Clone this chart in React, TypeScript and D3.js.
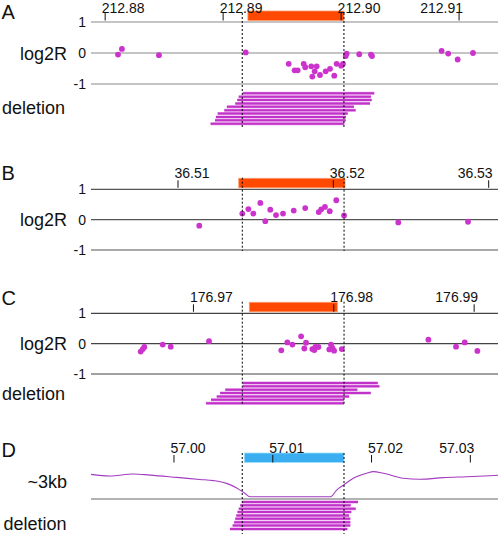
import React from 'react';
import * as d3 from 'd3';

const FONT = "'Liberation Sans', Arial, Helvetica, sans-serif";

// ---------- Panel A ----------
const A_DOMAIN = [212.8788, 212.9133];
const A_TICKS = [212.88, 212.89, 212.9, 212.91];
const A_POS = [212.88109, 212.88142, 212.88456, 212.89191, 212.89556, 212.89606, 212.89632, 212.89683, 212.89696, 212.89747, 212.89793, 212.89776, 212.89756, 212.89821, 212.89869, 212.89906, 212.89942, 212.89962, 212.90001, 212.90016, 212.90039, 212.90047, 212.90154, 212.90253, 212.90262, 212.90852, 212.90908, 212.90988, 212.91118];
const A_LOG2R = [-0.05, 0.13, -0.07, 0.02, -0.35, -0.56, -0.56, -0.35, -0.46, -0.43, -0.43, -0.59, -0.76, -0.71, -0.59, -0.51, -0.73, -0.35, -0.41, -0.35, -0.1, -0.02, -0.04, -0.05, -0.1, 0.07, -0.02, -0.21, 0.0];
const A_REGION = [212.8921, 212.90024];
const A_BREAKS = [212.89162, 212.90024];
const A_DEL_START = [212.89166, 212.89132, 212.8912, 212.89103, 212.89032, 212.8901, 212.88954, 212.88939, 212.88931, 212.88894];
const A_DEL_END = [212.90281, 212.90253, 212.90259, 212.90245, 212.90109, 212.90123, 212.90056, 212.90041, 212.90039, 212.90027];

// ---------- Panel B ----------
const B_DOMAIN = [36.5044, 36.5306];
const B_TICKS = [36.51, 36.52, 36.53];
const B_POS = [36.51137, 36.51414, 36.51453, 36.51485, 36.5153, 36.51562, 36.51594, 36.51631, 36.51676, 36.51745, 36.51819, 36.51906, 36.51922, 36.51946, 36.51977, 36.52019, 36.52069, 36.52418, 36.52867];
const B_LOG2R = [-0.2, 0.2, 0.35, 0.2, 0.55, -0.05, 0.33, 0.15, 0.2, 0.3, 0.38, 0.25, 0.34, 0.42, 0.28, 0.64, 0.14, -0.09, -0.07];
const B_REGION = [36.51391, 36.52075];
const B_BREAKS = [36.51414, 36.52069];

// ---------- Panel C ----------
const C_DOMAIN = [176.9627, 176.9917];
const C_TICKS = [176.97, 176.98, 176.99];
const C_POS = [176.96624, 176.96639, 176.9665, 176.96781, 176.96838, 176.97111, 176.97626, 176.97669, 176.97705, 176.97767, 176.97802, 176.9779, 176.97847, 176.97869, 176.9789, 176.97861, 176.9798, 176.97968, 176.98002, 176.9799, 176.98057, 176.98674, 176.98871, 176.98933, 176.99023];
const C_LOG2R = [-0.26, -0.18, -0.11, -0.03, -0.1, 0.08, -0.22, 0.04, -0.03, 0.24, 0.03, -0.16, -0.18, -0.11, -0.11, -0.21, -0.03, -0.19, -0.23, -0.14, -0.18, 0.13, -0.1, 0.04, -0.24];
const C_REGION = [176.97398, 176.98025];
const C_BREAKS = [176.97348, 176.98073];
const C_DEL_START = [176.97351, 176.97351, 176.97227, 176.9719, 176.97166, 176.97125, 176.9709];
const C_DEL_END = [176.98313, 176.98325, 176.98168, 176.98263, 176.98109, 176.98073, 176.98073];

// ---------- Panel D ----------
const D_DOMAIN = [56.9916, 57.0328];
const D_TICKS = [57.0, 57.01, 57.02, 57.03];
const D_REGION = [57.00712, 57.01721];
const D_BREAKS = [57.00691, 57.01721];
const D_COV_POS = [56.9916, 56.99352, 56.99588, 56.99757, 57.00027, 57.00263, 57.00398, 57.00533, 57.00635, 57.00716, 57.00769, 57.01586, 57.01647, 57.01714, 57.01815, 57.0195, 57.02018, 57.02119, 57.02321, 57.0249, 57.02726, 57.02963, 57.0328];
const D_COV_VAL = [1.07, 1.0, 1.09, 1.04, 0.94, 0.85, 0.8, 0.68, 0.48, 0.25, 0.1, 0.1, 0.39, 0.6, 0.9, 1.12, 1.19, 1.12, 0.9, 0.86, 0.93, 0.97, 1.03];
const D_DEL_START = [57.00693, 57.00671, 57.00656, 57.00643, 57.00631, 57.0062, 57.00609, 57.00594, 57.00567];
const D_DEL_END = [57.01863, 57.01789, 57.01839, 57.01795, 57.01772, 57.01785, 57.01785, 57.01785, 57.01755];

const X0 = 91;
const X1 = 498;
const DOT = '#cc33cc';
const DEL = '#c032c8';
const DEL_EDGE = '#e69ae9';
const fmt = d3.format('.2f');

function TickRow({ xs, ticks, top, labelGap = 11 }) {
  return (
    <g>
      {ticks.map((t, i) => {
        const x = xs(t);
        const last = i === ticks.length - 1;
        return (
          <g key={i}>
            <line x1={x} x2={x} y1={top - 9} y2={top - 1.5} stroke="#111" strokeWidth={1} />
            <text
              x={last ? x + 4 : x - 3.5}
              y={top - labelGap}
              textAnchor={last ? 'end' : 'start'}
              fontSize={14}
              fontFamily={FONT}
              fill="#111"
            >
              {fmt(t)}
            </text>
          </g>
        );
      })}
    </g>
  );
}

function Region({ xs, region, top, fill, edge }) {
  return (
    <rect
      x={xs(region[0])}
      y={top - 11}
      width={xs(region[1]) - xs(region[0])}
      height={9.5}
      fill={fill}
      stroke={edge}
      strokeWidth={0.8}
    />
  );
}

function Breaks({ xs, breaks, y1, y2 }) {
  return (
    <g>
      {breaks.map((b, i) => (
        <line key={i} x1={xs(b)} x2={xs(b)} y1={y1} y2={y2} stroke="#000" strokeWidth={1} strokeDasharray="2,2" />
      ))}
    </g>
  );
}

function Deletions({ xs, starts, ends, top }) {
  const ys = d3.scalePoint().domain(d3.range(starts.length)).range([top, top + (starts.length - 1) * 3.37]);
  return (
    <g>
      {starts.map((s, i) => (
        <g key={i}>
          <line x1={xs(s)} x2={xs(ends[i])} y1={ys(i)} y2={ys(i)} stroke={DEL_EDGE} strokeWidth={3} />
          <line x1={xs(s)} x2={xs(ends[i])} y1={ys(i)} y2={ys(i)} stroke={DEL} strokeWidth={2} />
        </g>
      ))}
    </g>
  );
}

function Log2RPanel({ domain, ticks, pos, vals, top, bottom, region, breaks, dashTop, dashBottom, lineColor, letter, letterY, dels, delTop, delLabelY, labelGap }) {
  const xs = d3.scaleLinear().domain(domain).range([X0, X1]);
  const ys = d3.scaleLinear().domain([-1, 1]).range([bottom, top]);
  return (
    <g>
      <text x={1.5} y={letterY} fontSize={20} fontFamily={FONT} fill="#111">{letter}</text>
      {[1, 0, -1].map((v) => (
        <g key={v}>
          <line x1={X0} x2={X1} y1={ys(v)} y2={ys(v)} stroke={lineColor} strokeWidth={1.2} />
          <text x={86} y={ys(v) + 5} textAnchor="end" fontSize={14} fontFamily={FONT} fill="#111">{v}</text>
        </g>
      ))}
      <text x={67} y={ys(0) + 6.5} textAnchor="end" fontSize={18} fontFamily={FONT} fill="#111">log2R</text>
      <Region xs={xs} region={region} top={top} fill="#ff4800" edge="#ff9a6a" />
      <TickRow xs={xs} ticks={ticks} top={top} labelGap={labelGap} />
      {pos.map((p, i) => (
        <circle key={i} cx={xs(p)} cy={ys(vals[i])} r={2.9} fill={DOT} />
      ))}
      {dels && (
        <>
          <Deletions xs={xs} starts={dels[0]} ends={dels[1]} top={delTop} />
          <text x={2} y={delLabelY} fontSize={18} fontFamily={FONT} fill="#111">deletion</text>
        </>
      )}
      <Breaks xs={xs} breaks={breaks} y1={dashTop} y2={dashBottom} />
    </g>
  );
}

function CoveragePanel() {
  const xs = d3.scaleLinear().domain(D_DOMAIN).range([X0, X1]);
  const yc = d3.scaleLinear().domain([0, 1]).range([499, 476]);
  const top = 464;
  const line = d3
    .line()
    .x((d) => xs(d[0]))
    .y((d) => yc(d[1]))
    .curve(d3.curveMonotoneX);
  const pts = D_COV_POS.map((p, i) => [p, D_COV_VAL[i]]);
  return (
    <g>
      <text x={1.5} y={457} fontSize={20} fontFamily={FONT} fill="#111">D</text>
      <Region xs={xs} region={D_REGION} top={top} fill="#3aaef0" edge="#9fe3fb" />
      <TickRow xs={xs} ticks={D_TICKS} top={top} />
      <text x={67} y={487.5} textAnchor="end" fontSize={18} fontFamily={FONT} fill="#111">~3kb</text>
      <line x1={X0} x2={X1} y1={yc(0)} y2={yc(0)} stroke="#666" strokeWidth={1.2} />
      <path d={line(pts)} fill="none" stroke="#a23cc0" strokeWidth={1.1} />
      <Deletions xs={xs} starts={D_DEL_START} ends={D_DEL_END} top={502} />
      <text x={3.5} y={530} fontSize={18} fontFamily={FONT} fill="#111">deletion</text>
      <Breaks xs={xs} breaks={D_BREAKS} y1={453} y2={534} />
    </g>
  );
}

export default function App() {
  return (
    <svg
      width={498}
      height={534}
      viewBox="0 0 498 534"
      style={{ position: 'absolute', left: 0, top: 0, background: '#fff' }}
    >
      <rect x={0} y={0} width={498} height={534} fill="#fff" />
      <Log2RPanel
        letter="A" letterY={18.5}
        domain={A_DOMAIN} ticks={A_TICKS} pos={A_POS} vals={A_LOG2R}
        top={22} bottom={84} region={A_REGION} breaks={A_BREAKS}
        dashTop={13} dashBottom={127} lineColor="#8a8a8a"
        dels={[A_DEL_START, A_DEL_END]} delTop={93.3} delLabelY={113.5}
        labelGap={9.5}
      />
      <Log2RPanel
        letter="B" letterY={180}
        domain={B_DOMAIN} ticks={B_TICKS} pos={B_POS} vals={B_LOG2R}
        top={189.3} bottom={250} region={B_REGION} breaks={B_BREAKS}
        dashTop={177.7} dashBottom={251} lineColor="#555"
      />
      <Log2RPanel
        letter="C" letterY={305}
        domain={C_DOMAIN} ticks={C_TICKS} pos={C_POS} vals={C_LOG2R}
        top={313.3} bottom={374} region={C_REGION} breaks={C_BREAKS}
        dashTop={301.7} dashBottom={405} lineColor="#444"
        dels={[C_DEL_START, C_DEL_END]} delTop={383} delLabelY={399.5}
      />
      <CoveragePanel />
    </svg>
  );
}
